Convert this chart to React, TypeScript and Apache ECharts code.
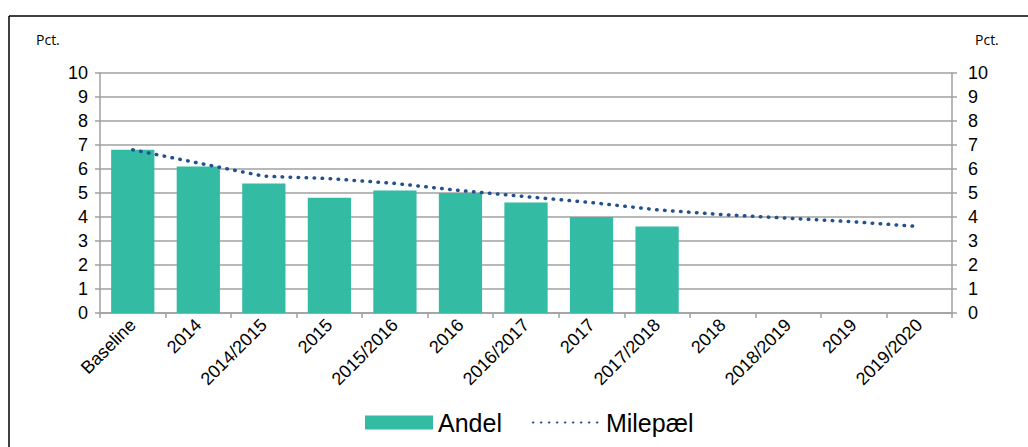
import React, { useEffect, useRef } from "react";
import * as echarts from "echarts";

const categories = [
  "Baseline", "2014", "2014/2015", "2015", "2015/2016", "2016", "2016/2017",
  "2017", "2017/2018", "2018", "2018/2019", "2019", "2019/2020",
];
const andel = [6.8, 6.1, 5.4, 4.8, 5.1, 5.0, 4.6, 4.0, 3.6, null, null, null, null];
const milepael = [6.8, 6.25, 5.7, 5.6, 5.4, 5.1, 4.85, 4.6, 4.3, 4.1, 3.95, 3.8, 3.6];
const yTicks = { min: 0, max: 10, interval: 1 };

const gridColor = "#a0a0a0";
const barColor = "#33bba3";
const lineColor = "#23508f";

export default function App() {
  const ref = useRef<HTMLDivElement>(null);
  useEffect(() => {
    if (!ref.current) return;
    const chart = echarts.init(ref.current, null, { renderer: "svg" });
    const yAxisBase = {
      type: "value" as const,
      min: yTicks.min,
      max: yTicks.max,
      interval: yTicks.interval,
      axisLine: { show: true, lineStyle: { color: gridColor, width: 1.5 } },
      axisTick: { show: true, length: 5, lineStyle: { color: gridColor, width: 1.5 } },
      axisLabel: { color: "#000", fontSize: 18, fontFamily: "Liberation Sans, Arial", margin: 12 },
    };
    chart.setOption({
      animation: false,
      grid: { left: 100, right: 76, top: 73, bottom: 134 },
      xAxis: {
        type: "category",
        data: categories,
        axisLine: { lineStyle: { color: gridColor, width: 1.5 } },
        axisTick: { show: true, length: 5, lineStyle: { color: gridColor, width: 1.5 } },
        axisLabel: {
          rotate: 45,
          interval: 0,
          color: "#000",
          fontSize: 18,
          fontFamily: "Liberation Sans, Arial",
          margin: 9,
        },
      },
      yAxis: [
        {
          ...yAxisBase,
          position: "left",
          splitLine: { show: true, lineStyle: { color: gridColor, width: 1.5 } },
        },
        {
          ...yAxisBase,
          position: "right",
          splitLine: { show: false },
          axisLabel: { ...yAxisBase.axisLabel, margin: 16 },
        },
      ],
      legend: {
        left: 360,
        top: 405,
        itemWidth: 68,
        itemHeight: 14,
        itemGap: 30,
        textStyle: { fontSize: 25, color: "#000", fontFamily: "Liberation Sans, Arial" },
        data: [
          { name: "Andel", icon: "rect" },
          { name: "Milepæl", itemStyle: { color: "rgba(0,0,0,0)", borderWidth: 0, opacity: 0 } },
        ],
      },
      series: [
        {
          name: "Andel",
          type: "bar",
          data: andel,
          barCategoryGap: "34%",
          itemStyle: { color: barColor },
          yAxisIndex: 0,
        },
        {
          name: "Milepæl",
          type: "line",
          data: milepael,
          yAxisIndex: 0,
          symbol: "none",
          lineStyle: { color: lineColor, width: 3.5, type: [0.5, 7.5], cap: "round" },
          itemStyle: { color: lineColor },
          z: 5,
        },
      ],
      graphic: [
        {
          type: "line",
          shape: { x1: 9, y1: 16, x2: 1028, y2: 16 },
          style: { stroke: "#000", lineWidth: 1.5 },
        },
        {
          type: "line",
          shape: { x1: 9, y1: 16, x2: 9, y2: 447 },
          style: { stroke: "#000", lineWidth: 1.5 },
        },
        {
          type: "text",
          left: 36,
          top: 32,
          style: { text: "Pct.", fontSize: 14, fill: "#000", fontFamily: "Open Sans, Liberation Sans" },
        },
        {
          type: "text",
          left: 975,
          top: 32,
          style: { text: "Pct.", fontSize: 14, fill: "#000", fontFamily: "Open Sans, Liberation Sans" },
        },
      ],
    });
    return () => chart.dispose();
  }, []);
  return (
    <div
      ref={ref}
      style={{ position: "absolute", left: 0, top: 0, width: 1028, height: 447, background: "#fff" }}
    />
  );
}
